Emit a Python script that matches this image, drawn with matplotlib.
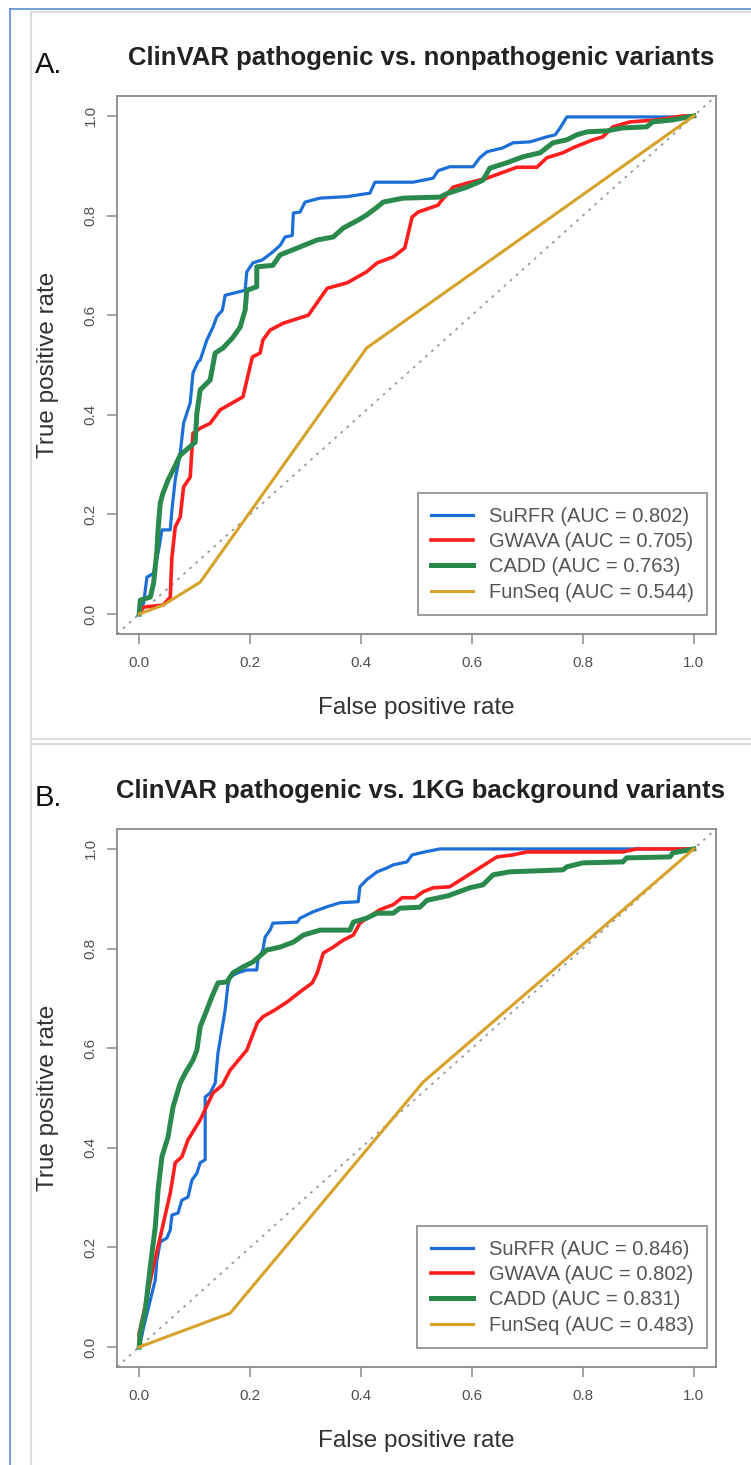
import matplotlib
matplotlib.use("Agg")
from matplotlib import pyplot as plt
from matplotlib.lines import Line2D

plt.rcParams['font.family'] = ['Liberation Sans', 'DejaVu Sans']

W = 751
H = 1465

# legend names
methods = ["SuRFR", "GWAVA", "CADD", "FunSeq"]
auc_a = ["0.802", "0.705", "0.763", "0.544"]
auc_b = ["0.846", "0.802", "0.831", "0.483"]
ticks = [0.0, 0.2, 0.4, 0.6, 0.8, 1.0]

# panel A: ClinVAR pathogenic vs nonpathogenic
surfr_a_fpr = [0, 0, 0.008, 0.014, 0.026, 0.035, 0.041, 0.056, 0.059, 0.065, 0.074, 0.08, 0.092, 0.097,
               0.106, 0.11, 0.122, 0.133, 0.14, 0.15, 0.155, 0.191, 0.194, 0.205, 0.222, 0.241, 0.254,
               0.263, 0.276, 0.278, 0.29, 0.299, 0.326, 0.375, 0.416, 0.425, 0.494, 0.53, 0.539, 0.56,
               0.602, 0.614, 0.627, 0.656, 0.674, 0.705, 0.735, 0.75, 0.759, 0.771, 0.975, 1]
surfr_a_tpr = [0, 0.01, 0.022, 0.074, 0.082, 0.128, 0.169, 0.169, 0.209, 0.27, 0.323, 0.383, 0.424, 0.484,
               0.506, 0.51, 0.55, 0.576, 0.597, 0.61, 0.64, 0.65, 0.687, 0.705, 0.711, 0.727, 0.74,
               0.757, 0.76, 0.805, 0.807, 0.827, 0.835, 0.838, 0.845, 0.867, 0.867, 0.875, 0.89, 0.898,
               0.898, 0.916, 0.928, 0.936, 0.946, 0.948, 0.958, 0.962, 0.976, 0.998, 0.998, 1]

gwava_a_fpr = [0, 0.008, 0.043, 0.056, 0.059, 0.065, 0.074, 0.08, 0.092, 0.097, 0.11, 0.128, 0.146, 0.187,
               0.204, 0.218, 0.223, 0.236, 0.26, 0.305, 0.339, 0.375, 0.41, 0.429, 0.458, 0.479, 0.492,
               0.503, 0.539, 0.542, 0.566, 0.591, 0.627, 0.681, 0.717, 0.735, 0.764, 0.782, 0.818, 0.836,
               0.854, 0.885, 0.933, 0.98, 1]
gwava_a_tpr = [0, 0.014, 0.018, 0.034, 0.114, 0.175, 0.195, 0.255, 0.275, 0.363, 0.373, 0.383, 0.41, 0.436,
               0.516, 0.524, 0.55, 0.57, 0.584, 0.6, 0.654, 0.665, 0.687, 0.705, 0.717, 0.735, 0.797,
               0.807, 0.821, 0.826, 0.857, 0.865, 0.875, 0.897, 0.897, 0.916, 0.926, 0.936, 0.952, 0.958,
               0.978, 0.988, 0.992, 1.0, 1]

cadd_a_fpr = [0, 0.002, 0.02, 0.026, 0.032, 0.034, 0.038, 0.043, 0.052, 0.061, 0.074, 0.101, 0.104, 0.11,
              0.128, 0.137, 0.151, 0.168, 0.182, 0.191, 0.194, 0.212, 0.212, 0.241, 0.254, 0.29, 0.321,
              0.35, 0.368, 0.395, 0.41, 0.429, 0.44, 0.476, 0.542, 0.557, 0.591, 0.62, 0.632, 0.663,
              0.692, 0.723, 0.746, 0.771, 0.789, 0.807, 0.843, 0.872, 0.915, 0.926, 0.962, 1]
cadd_a_tpr = [0, 0.028, 0.034, 0.062, 0.128, 0.169, 0.223, 0.243, 0.269, 0.289, 0.319, 0.345, 0.403, 0.45,
              0.47, 0.524, 0.534, 0.554, 0.576, 0.61, 0.65, 0.657, 0.697, 0.7, 0.721, 0.737, 0.751,
              0.757, 0.775, 0.791, 0.801, 0.817, 0.827, 0.835, 0.837, 0.845, 0.857, 0.871, 0.895, 0.906,
              0.918, 0.926, 0.946, 0.952, 0.962, 0.968, 0.97, 0.976, 0.978, 0.988, 0.992, 1]

funseq_a_fpr = [0, 0.043, 0.11, 0.41, 1]
funseq_a_tpr = [0, 0.018, 0.064, 0.534, 1]

# panel B: ClinVAR pathogenic vs 1KG background
surfr_b_fpr = [0, 0.002, 0.008, 0.02, 0.029, 0.032, 0.038, 0.05, 0.056, 0.059, 0.07, 0.077, 0.088, 0.095,
               0.104, 0.11, 0.119, 0.119, 0.128, 0.137, 0.142, 0.15, 0.155, 0.16, 0.164, 0.177, 0.194,
               0.212, 0.214, 0.223, 0.227, 0.236, 0.241, 0.285, 0.29, 0.314, 0.339, 0.362, 0.395, 0.398,
               0.41, 0.429, 0.447, 0.458, 0.483, 0.492, 0.515, 0.542, 1]
surfr_b_tpr = [0, 0.008, 0.04, 0.094, 0.135, 0.175, 0.211, 0.219, 0.235, 0.265, 0.269, 0.295, 0.301, 0.335,
               0.349, 0.37, 0.376, 0.502, 0.51, 0.53, 0.59, 0.643, 0.677, 0.727, 0.743, 0.751, 0.757,
               0.757, 0.777, 0.797, 0.823, 0.837, 0.851, 0.853, 0.861, 0.874, 0.884, 0.892, 0.894, 0.924,
               0.938, 0.954, 0.962, 0.968, 0.974, 0.988, 0.994, 1.0, 1]

gwava_b_fpr = [0, 0, 0.008, 0.023, 0.038, 0.056, 0.065, 0.077, 0.088, 0.11, 0.133, 0.15, 0.164, 0.182,
               0.194, 0.213, 0.223, 0.245, 0.267, 0.29, 0.312, 0.321, 0.332, 0.35, 0.368, 0.386, 0.398,
               0.416, 0.434, 0.458, 0.474, 0.497, 0.512, 0.53, 0.56, 0.645, 0.674, 0.699, 0.872, 0.897, 1]
gwava_b_tpr = [0, 0.028, 0.068, 0.149, 0.221, 0.309, 0.37, 0.382, 0.416, 0.456, 0.51, 0.526, 0.556, 0.58,
               0.596, 0.651, 0.663, 0.677, 0.693, 0.713, 0.731, 0.751, 0.791, 0.803, 0.817, 0.827, 0.851,
               0.865, 0.878, 0.888, 0.902, 0.902, 0.914, 0.922, 0.924, 0.984, 0.988, 0.994, 0.994, 1.0, 1]

cadd_b_fpr = [0, 0.002, 0.011, 0.02, 0.029, 0.034, 0.041, 0.052, 0.061, 0.074, 0.083, 0.097, 0.104, 0.11,
              0.122, 0.131, 0.142, 0.158, 0.169, 0.187, 0.205, 0.23, 0.254, 0.278, 0.296, 0.326, 0.38,
              0.386, 0.41, 0.429, 0.458, 0.47, 0.506, 0.519, 0.557, 0.596, 0.62, 0.638, 0.668, 0.764,
              0.771, 0.8, 0.872, 0.879, 0.957, 0.962, 1]
cadd_b_tpr = [0, 0.028, 0.074, 0.161, 0.241, 0.315, 0.382, 0.422, 0.482, 0.53, 0.55, 0.576, 0.596, 0.643,
              0.677, 0.703, 0.731, 0.733, 0.751, 0.763, 0.773, 0.797, 0.803, 0.813, 0.827, 0.837, 0.837,
              0.853, 0.861, 0.871, 0.871, 0.881, 0.883, 0.897, 0.906, 0.922, 0.928, 0.948, 0.954, 0.958,
              0.964, 0.972, 0.974, 0.982, 0.984, 0.992, 1]

funseq_b_fpr = [0, 0.164, 0.512, 1]
funseq_b_tpr = [0, 0.068, 0.532, 1]

colors = ["#1b6fd6", "#ff1e1e", "#2a8a4e", "#d6a22a"]
widths = [2.3, 2.6, 3.6, 2.2]


def px_box(left, top, right, bottom):
    # pixel box -> figure fraction rect
    return [left / W, 1 - bottom / H, (right - left) / W, (bottom - top) / H]


def roc_panel(fig, top, title, letter, curves, aucs):
    ax = fig.add_axes(px_box(117, top, 716, top + 538))
    ax.set_xlim(-0.04, 1.04)
    ax.set_ylim(-0.04, 1.04)
    ax.axline((0, 0), (1, 1), color="#9a9a9a", lw=1.3, ls=(0, (1.5, 3)), zorder=1)
    for i in range(len(curves)):
        fpr, tpr = curves[i]
        ax.plot(fpr, tpr, color=colors[i], lw=widths[i], zorder=2 + i,
                label=methods[i] + " (AUC = " + aucs[i] + ")")
    for s in ax.spines.values():
        s.set_color("#8a8a8a")
        s.set_linewidth(1.3)
    ax.set_xticks(ticks)
    ax.set_yticks(ticks)
    ax.set_xticklabels(["%.1f" % t for t in ticks])
    ax.set_yticklabels(["%.1f" % t for t in ticks], rotation=90, va="center")
    ax.tick_params(length=7, width=1.1, color="#8a8a8a", labelcolor="#505050", labelsize=11)
    ax.tick_params(axis="x", pad=9)
    ax.tick_params(axis="y", pad=7)
    ax.set_xlabel("False positive rate", fontsize=17.5, color="#333333", labelpad=19)
    ax.set_ylabel("True positive rate", fontsize=17.5, color="#333333", labelpad=18)
    leg = ax.legend(loc="lower right", bbox_to_anchor=(707 / W, 1 - (top + 519) / H),
                    bbox_transform=fig.transFigure, borderaxespad=0, fontsize=14.5,
                    fancybox=False, edgecolor="#8a8a8a", handlelength=2.1, handletextpad=0.8,
                    labelspacing=0.32, borderpad=0.65, framealpha=1)
    leg.get_frame().set_linewidth(1.2)
    for t in leg.get_texts():
        t.set_color("#555555")
    fig.text(421 / W, 1 - (top - 38) / H, title, ha="center", va="center",
             fontsize=18.5, fontweight="bold", color="#222222")
    fig.text(35 / W, 1 - (top - 31) / H, letter, ha="left", va="center",
             fontsize=21, color="#111111")
    return ax


def frame_lines(fig):
    blue = "#5b8fd0"
    grey = "#dcdcdc"
    fig.add_artist(Line2D([10 / W, 10 / W], [0, 1 - 9 / H], color=blue, lw=1.2))
    fig.add_artist(Line2D([10 / W, 1], [1 - 9 / H, 1 - 9 / H], color=blue, lw=1.2))
    fig.add_artist(Line2D([31 / W, 31 / W], [0, 1 - 12 / H], color=grey, lw=1.5))
    fig.add_artist(Line2D([31 / W, 1], [1 - 12 / H, 1 - 12 / H], color=grey, lw=1.5))
    fig.add_artist(Line2D([31 / W, 1], [1 - 739 / H, 1 - 739 / H], color=grey, lw=1.5))
    fig.add_artist(Line2D([31 / W, 1], [1 - 744 / H, 1 - 744 / H], color=grey, lw=1.5))


def main():
    fig = plt.figure(figsize=(W / 100, H / 100), dpi=100)
    fig.patch.set_facecolor("white")
    frame_lines(fig)

    curves_a = [(surfr_a_fpr, surfr_a_tpr), (gwava_a_fpr, gwava_a_tpr),
                (cadd_a_fpr, cadd_a_tpr), (funseq_a_fpr, funseq_a_tpr)]
    curves_b = [(surfr_b_fpr, surfr_b_tpr), (gwava_b_fpr, gwava_b_tpr),
                (cadd_b_fpr, cadd_b_tpr), (funseq_b_fpr, funseq_b_tpr)]

    roc_panel(fig, 96, "ClinVAR pathogenic vs. nonpathogenic variants", "A.", curves_a, auc_a)
    roc_panel(fig, 829, "ClinVAR pathogenic vs. 1KG background variants", "B.", curves_b, auc_b)

    fig.savefig("out.png", dpi=100)


if __name__ == '__main__': main()
